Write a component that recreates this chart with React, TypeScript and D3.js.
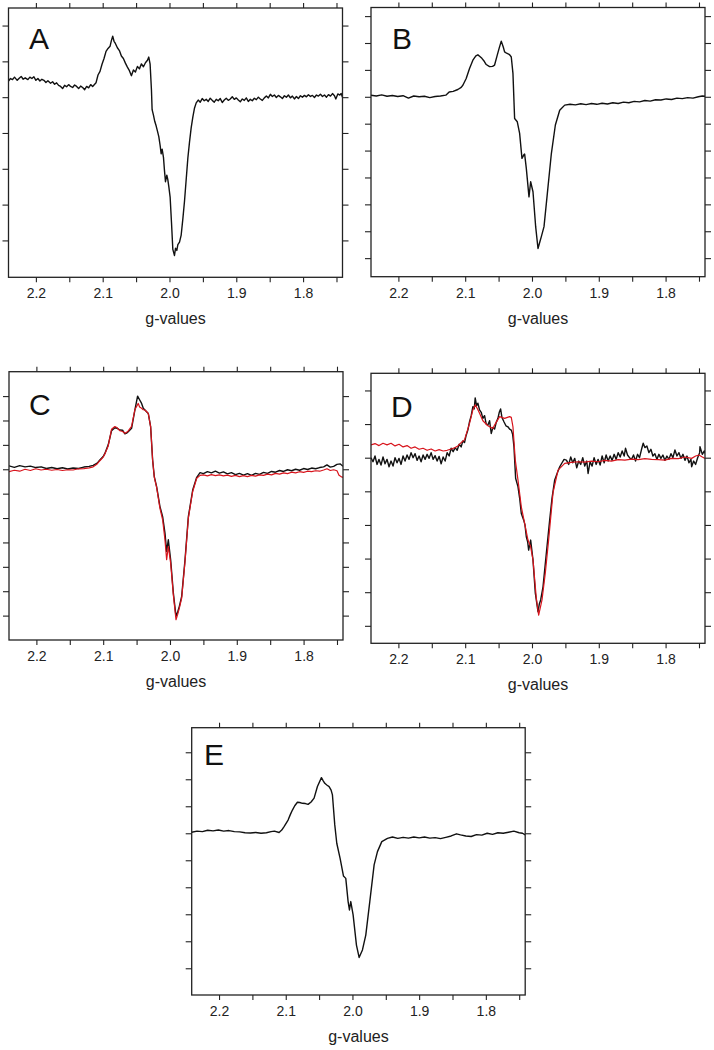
import React, { useEffect, useRef } from "react"
import * as d3 from "d3"

// g-value axis (same for every panel)
const xDomain = [2.241, 1.741]
const xTicks = [2.2, 2.15, 2.1, 2.05, 2.0, 1.95, 1.9, 1.85, 1.8, 1.75]
const xLabelled = [2.2, 2.1, 2.0, 1.9, 1.8]
const xTitle = "g-values"

// spectra as [g, intensity] in tick units
const specA = [
    [2.241,0.45],[2.238,0.52],[2.235,0.49],[2.232,0.56],[2.228,0.47],[2.225,0.53],[2.222,0.58],[2.219,0.5],[2.216,0.54],[2.212,0.49],[2.209,0.56],[2.206,0.52],[2.203,0.57],[2.2,0.47],[2.197,0.52],[2.194,0.45],[2.191,0.5],[2.188,0.47],[2.185,0.41],[2.182,0.46],[2.178,0.39],[2.175,0.43],[2.172,0.36],[2.169,0.4],[2.166,0.33],[2.163,0.3],[2.16,0.24],[2.157,0.33],[2.154,0.29],[2.151,0.35],[2.148,0.3],[2.145,0.27],[2.142,0.34],[2.139,0.3],[2.136,0.24],[2.133,0.31],[2.13,0.27],[2.127,0.21],[2.124,0.3],[2.121,0.26],[2.118,0.35],[2.115,0.3],[2.112,0.36],[2.11,0.4],
    [2.107,0.62],[2.104,0.72],[2.101,0.92],[2.098,1.08],[2.095,1.28],[2.092,1.36],[2.089,1.42],[2.087,1.58],[2.085,1.7],[2.083,1.56],[2.081,1.5],[2.078,1.38],[2.075,1.3],[2.072,1.15],[2.069,1.08],[2.066,0.95],[2.063,0.84],[2.06,0.74],[2.057,0.6],[2.054,0.76],[2.051,0.7],[2.048,0.86],[2.045,0.79],[2.042,0.93],[2.039,0.85],[2.036,0.96],[2.033,1.03],[2.031,1.12],[2.029,0.92],[2.027,0.2],
    [2.026,-0.35],[2.024,-0.5],[2.022,-0.68],[2.02,-0.8],[2.018,-0.95],[2.016,-1.1],[2.014,-1.35],[2.0125,-1.58],[2.011,-1.45],[2.009,-1.68],[2.0075,-2.05],[2.006,-2.36],[2.004,-2.18],[2.0025,-2.3],[2.001,-2.5],[1.999,-2.8],[1.997,-3.5],[1.995,-4.25],[1.9925,-4.42],[1.991,-4.22],[1.989,-4.28],[1.9875,-4.12],[1.985,-4.05],[1.9825,-3.85],[1.98,-3.4],[1.9775,-2.9],[1.975,-2.3],[1.9725,-1.7],[1.97,-1.25],[1.9675,-0.85],[1.965,-0.55],[1.9625,-0.3],[1.96,-0.16],
    [1.957,-0.08],[1.954,-0.14],[1.951,-0.04],[1.948,-0.1],[1.945,-0.06],[1.942,-0.12],[1.939,-0.03],[1.936,-0.09],[1.933,-0.14],[1.93,-0.06],[1.927,-0.1],[1.924,-0.04],[1.921,-0.15],[1.918,-0.08],[1.915,-0.03],[1.912,-0.09],[1.909,-0.05],[1.906,0.01],[1.903,-0.06],[1.9,-0.02],[1.897,-0.08],[1.894,-0.13],[1.891,-0.05],[1.888,-0.09],[1.885,-0.02],[1.882,-0.12],[1.879,-0.06],[1.876,-0.1],[1.873,-0.03],[1.87,-0.07],[1.867,0.0],[1.864,-0.05],[1.861,-0.09],[1.858,-0.02],[1.855,0.03],[1.852,-0.02],[1.849,0.08],[1.846,0.02],[1.843,0.06],[1.84,-0.01],[1.837,0.05],[1.834,0.01],[1.831,-0.04],[1.828,0.04],[1.825,0.0],[1.822,0.06],[1.819,-0.02],[1.816,0.03],[1.813,-0.05],[1.81,0.02],[1.807,-0.04],[1.804,0.04],[1.801,0.0],[1.798,0.05],[1.795,0.01],[1.792,0.07],[1.789,0.02],[1.786,0.05],[1.783,-0.01],[1.78,0.06],[1.777,0.03],[1.774,0.08],[1.771,0.02],[1.768,0.06],[1.765,0.0],[1.762,0.07],[1.759,0.03],[1.756,0.1],[1.753,0.04],[1.751,-0.05],[1.748,0.09],[1.745,0.06],[1.743,0.1],[1.741,0.0]
]

const specB = [
    [2.241,0.06],[2.233,0.03],[2.225,0.07],[2.217,0.02],[2.209,0.05],[2.201,0.01],[2.193,0.04],[2.185,-0.05],[2.177,0.03],[2.169,0.0],[2.161,0.02],[2.153,-0.03],[2.145,0.01],[2.137,0.03],[2.129,0.06],[2.124,0.18],[2.118,0.2],[2.111,0.27],[2.106,0.35],[2.1035,0.43],
    [2.0985,0.68],[2.0935,1.05],[2.0885,1.36],[2.084,1.52],[2.081,1.56],[2.078,1.5],[2.075,1.43],[2.0715,1.32],[2.0685,1.2],[2.0635,1.12],[2.059,1.13],[2.056,1.18],[2.052,1.55],[2.049,1.82],[2.046,2.07],[2.043,1.85],[2.041,1.67],[2.038,1.62],[2.035,1.59],[2.033,1.55],[2.031,1.48],[2.0285,0.87],
    [2.026,-0.81],[2.022,-0.93],[2.0185,-1.36],[2.015,-2.29],[2.012,-2.15],[2.011,-2.13],[2.0085,-2.66],[2.0045,-3.72],[2.002,-3.16],[1.9985,-3.53],[1.9945,-4.83],[1.991,-5.64],[1.9885,-5.42],[1.986,-5.2],[1.982,-4.83],[1.977,-3.59],[1.971,-2.11],[1.965,-1.05],[1.9585,-0.5],[1.951,-0.31],
    [1.943,-0.28],[1.935,-0.3],[1.927,-0.26],[1.919,-0.29],[1.911,-0.25],[1.903,-0.28],[1.895,-0.24],[1.887,-0.27],[1.879,-0.22],[1.871,-0.25],[1.863,-0.2],[1.855,-0.22],[1.847,-0.17],[1.839,-0.19],[1.831,-0.14],[1.823,-0.16],[1.815,-0.11],[1.807,-0.12],[1.799,-0.08],[1.791,-0.1],[1.783,-0.05],[1.775,-0.07],[1.767,-0.03],[1.759,-0.05],[1.751,0.0],[1.745,0.03],[1.741,0.02]
]

const specCblack = [
    [2.241,0.14],[2.233,0.08],[2.225,0.15],[2.217,0.1],[2.209,0.13],[2.201,0.07],[2.193,0.1],[2.185,0.03],[2.177,0.07],[2.169,0.02],[2.161,0.06],[2.153,0.01],[2.145,0.05],[2.137,0.03],[2.129,0.09],[2.121,0.12],[2.115,0.16],[2.109,0.25],[2.105,0.38],[2.1,0.52],
    [2.0975,0.65],[2.0925,1.0],[2.0875,1.58],[2.0825,1.7],[2.079,1.68],[2.075,1.61],[2.071,1.6],[2.0675,1.45],[2.065,1.48],[2.0625,1.54],[2.0575,1.68],[2.0525,2.43],[2.0485,3.0],[2.0455,2.85],[2.0425,2.7],[2.04,2.5],[2.0375,2.43],[2.0325,2.29],[2.029,1.75],[2.026,0.38],
    [2.0235,-0.3],[2.02,-0.71],[2.015,-1.53],[2.011,-1.94],[2.0075,-2.62],[2.005,-3.37],[2.0025,-2.89],[1.999,-3.71],[1.995,-5.07],[1.991,-6.03],[1.9885,-5.85],[1.986,-5.62],[1.9825,-5.21],[1.9775,-3.71],[1.9725,-1.94],[1.966,-0.85],[1.96,-0.33],[1.955,-0.14],
    [1.95,-0.18],[1.944,-0.1],[1.938,-0.15],[1.932,-0.08],[1.926,-0.16],[1.92,-0.11],[1.914,-0.19],[1.908,-0.14],[1.902,-0.22],[1.896,-0.17],[1.89,-0.24],[1.884,-0.18],[1.878,-0.25],[1.872,-0.17],[1.866,-0.21],[1.86,-0.13],[1.854,-0.17],[1.848,-0.09],[1.842,-0.12],[1.836,-0.05],[1.83,-0.09],[1.824,-0.02],[1.818,-0.06],[1.812,0.0],[1.806,-0.04],[1.8,0.03],[1.794,-0.01],[1.788,0.05],[1.782,0.02],[1.776,0.07],[1.77,0.1],[1.765,0.18],[1.76,0.09],[1.755,0.12],[1.75,0.2],[1.745,0.22],[1.741,0.12]
]

const specCred = [
    [2.241,-0.1],[2.233,-0.04],[2.225,-0.08],[2.217,0.0],[2.209,-0.05],[2.201,0.02],[2.193,-0.03],[2.185,0.0],[2.177,-0.04],[2.169,-0.01],[2.161,-0.05],[2.153,-0.02],[2.145,-0.03],[2.137,0.02],[2.129,0.03],[2.121,0.06],[2.115,0.1],[2.109,0.22],[2.105,0.35],[2.1,0.5],
    [2.0975,0.63],[2.0925,0.95],[2.0875,1.64],[2.0825,1.75],[2.079,1.7],[2.075,1.58],[2.071,1.55],[2.0675,1.48],[2.065,1.52],[2.0625,1.57],[2.0575,1.76],[2.0525,2.45],[2.0475,2.7],[2.0455,2.55],[2.0425,2.5],[2.04,2.44],[2.0375,2.43],[2.0325,2.29],[2.029,1.75],[2.026,0.38],
    [2.0235,-0.33],[2.02,-0.74],[2.015,-1.6],[2.011,-2.07],[2.0075,-2.9],[2.005,-3.71],[2.0025,-3.16],[1.999,-3.85],[1.995,-5.14],[1.991,-6.17],[1.9885,-5.95],[1.986,-5.69],[1.9825,-5.28],[1.9775,-3.78],[1.9725,-2.0],[1.966,-0.91],[1.96,-0.37],[1.955,-0.25],
    [1.95,-0.23],[1.944,-0.27],[1.938,-0.22],[1.932,-0.26],[1.926,-0.23],[1.92,-0.27],[1.914,-0.24],[1.908,-0.29],[1.902,-0.25],[1.896,-0.3],[1.89,-0.26],[1.884,-0.3],[1.878,-0.25],[1.872,-0.28],[1.866,-0.23],[1.86,-0.25],[1.854,-0.2],[1.848,-0.23],[1.842,-0.17],[1.836,-0.2],[1.83,-0.15],[1.824,-0.18],[1.818,-0.12],[1.812,-0.15],[1.806,-0.1],[1.8,-0.13],[1.794,-0.08],[1.788,-0.1],[1.782,-0.06],[1.776,-0.08],[1.77,-0.03],[1.765,0.02],[1.76,-0.05],[1.755,-0.02],[1.75,-0.06],[1.747,-0.25],[1.744,-0.3],[1.741,-0.33]
]

const specDblack = [
    [2.241,0.0],[2.238,-0.12],[2.235,0.05],[2.232,-0.2],[2.229,-0.05],[2.226,-0.22],[2.223,0.02],[2.22,-0.18],[2.217,-0.05],[2.214,-0.27],[2.211,-0.1],[2.208,-0.25],[2.205,0.0],[2.202,-0.15],[2.199,-0.02],[2.196,-0.2],[2.193,0.05],[2.19,-0.1],[2.187,0.08],[2.184,-0.05],[2.181,0.15],[2.178,0.0],[2.175,0.12],[2.172,-0.08],[2.169,0.05],[2.166,-0.12],[2.163,0.08],[2.16,-0.05],[2.157,0.1],[2.154,-0.02],[2.151,0.15],[2.148,-0.05],[2.145,0.06],[2.142,-0.1],[2.139,0.04],[2.136,-0.18],[2.133,0.02],[2.13,-0.1],[2.127,0.15],[2.124,0.05],
    [2.121,0.28],[2.118,0.18],[2.115,0.3],[2.112,0.22],[2.109,0.4],[2.106,0.32],[2.1035,0.5],[2.101,0.45],[2.0985,0.67],[2.096,0.82],[2.0935,1.07],[2.091,1.25],[2.0885,1.52],[2.0865,1.45],[2.085,1.78],[2.083,1.55],[2.081,1.62],[2.0785,1.42],[2.076,1.35],[2.0735,1.17],[2.071,1.25],[2.0685,1.0],[2.066,0.97],[2.0635,1.1],[2.061,0.72],[2.0585,0.9],[2.056,0.85],[2.0535,1.05],[2.051,1.17],[2.049,1.35],[2.047,1.45],[2.045,1.2],[2.042,1.07],[2.039,0.95],[2.036,0.92],[2.0335,0.85],[2.031,0.82],[2.029,0.7],[2.027,0.33],
    [2.0245,-0.61],[2.021,-0.86],[2.0185,-1.2],[2.016,-1.66],[2.0125,-1.85],[2.0105,-2.0],[2.0085,-2.35],[2.0065,-2.5],[2.005,-2.75],[2.002,-2.45],[1.9985,-3.04],[1.995,-4.03],[1.993,-4.3],[1.991,-4.58],[1.989,-4.35],[1.987,-4.23],[1.9835,-3.84],[1.9785,-2.84],[1.9735,-1.85],[1.97,-1.2],[1.966,-0.66],[1.962,-0.45],[1.9585,-0.27],[1.955,-0.15],[1.952,-0.05],
    [1.9485,-0.07],[1.945,-0.2],[1.942,0.02],[1.939,-0.15],[1.936,-0.02],[1.933,-0.3],[1.93,-0.1],[1.927,-0.2],[1.924,0.0],[1.921,-0.25],[1.918,-0.1],[1.916,-0.47],[1.913,-0.12],[1.91,-0.25],[1.907,0.0],[1.904,-0.2],[1.901,-0.05],[1.898,-0.22],[1.895,0.05],[1.892,-0.15],[1.889,0.08],[1.886,-0.1],[1.883,0.05],[1.88,-0.08],[1.877,0.1],[1.874,-0.05],[1.871,0.15],[1.868,0.02],[1.865,0.2],[1.862,0.05],[1.86,0.28],[1.857,0.08],[1.854,0.0],[1.851,-0.05],[1.848,0.08],[1.845,-0.1],[1.842,0.1],[1.839,0.0],[1.836,0.25],[1.8335,0.43],[1.831,0.3],[1.828,0.35],[1.825,0.15],[1.822,0.25],[1.819,0.05],[1.816,0.12],[1.813,-0.05],[1.81,0.1],[1.807,-0.02],[1.804,0.08],[1.801,-0.08],[1.798,0.05],[1.795,-0.05],[1.792,0.12],[1.789,0.0],[1.786,0.23],[1.783,0.05],[1.78,0.15],[1.777,-0.02],[1.774,0.1],[1.771,-0.08],[1.768,0.05],[1.765,-0.15],[1.762,-0.05],[1.761,-0.27],[1.758,-0.1],[1.755,-0.2],[1.752,0.0],[1.749,0.15],[1.7485,0.33],[1.745,0.1],[1.742,0.2],[1.7385,0.02]
]

const specDred = [
    [2.241,0.38],[2.235,0.42],[2.229,0.36],[2.223,0.43],[2.217,0.38],[2.211,0.43],[2.205,0.35],[2.199,0.4],[2.193,0.32],[2.187,0.36],[2.181,0.28],[2.175,0.32],[2.169,0.25],[2.163,0.28],[2.157,0.22],[2.151,0.26],[2.145,0.2],[2.139,0.24],[2.133,0.2],[2.127,0.22],[2.121,0.26],[2.115,0.3],[2.111,0.35],[2.106,0.45],[2.101,0.53],
    [2.0935,1.02],[2.0885,1.42],[2.085,1.57],[2.0815,1.45],[2.0785,1.32],[2.0735,1.1],[2.066,0.95],[2.0585,0.87],[2.056,0.97],[2.0485,1.22],[2.041,1.17],[2.0335,1.22],[2.031,1.2],[2.0285,0.92],
    [2.025,-0.07],[2.021,-0.66],[2.016,-1.46],[2.011,-1.95],[2.006,-2.45],[2.002,-2.65],[1.9985,-3.04],[1.9935,-4.18],[1.99,-4.68],[1.985,-4.23],[1.98,-3.42],[1.975,-2.43],[1.9685,-1.04],[1.961,-0.37],[1.951,-0.17],
    [1.941,-0.14],[1.931,-0.12],[1.921,-0.13],[1.911,-0.1],[1.901,-0.12],[1.891,-0.08],[1.881,-0.1],[1.871,-0.06],[1.861,-0.07],[1.851,-0.04],[1.841,-0.06],[1.831,-0.03],[1.821,-0.05],[1.811,-0.06],[1.801,-0.07],[1.791,-0.02],[1.781,-0.03],[1.771,0.02],[1.761,-0.02],[1.755,0.05],[1.75,0.08],[1.745,0.02],[1.741,-0.02]
]

const specE = [
    [2.241,0.04],[2.233,0.08],[2.225,0.06],[2.217,0.11],[2.209,0.09],[2.201,0.12],[2.193,0.08],[2.185,0.1],[2.177,0.06],[2.169,0.05],[2.161,0.02],[2.153,0.01],[2.145,0.03],[2.137,0.0],[2.129,0.02],[2.122,0.06],[2.117,0.08],[2.11,0.03],[2.106,0.12],[2.1025,0.25],
    [2.0965,0.49],[2.093,0.7],[2.09,0.86],[2.0865,1.02],[2.0825,1.15],[2.079,1.14],[2.075,1.11],[2.0705,1.1],[2.0665,1.07],[2.062,1.16],[2.0575,1.3],[2.0525,1.73],[2.0465,2.06],[2.044,1.95],[2.0415,1.85],[2.038,1.78],[2.035,1.73],[2.032,1.6],[2.03,1.42],[2.0265,0.31],
    [2.0235,-0.37],[2.0185,-0.93],[2.0135,-1.58],[2.01,-1.67],[2.0065,-2.53],[2.0045,-2.84],[2.0025,-2.53],[1.999,-3.02],[1.994,-4.14],[1.99,-4.6],[1.985,-4.32],[1.98,-3.77],[1.974,-2.53],[1.9675,-1.17],[1.9625,-0.68],[1.956,-0.31],[1.9475,-0.19],
    [1.94,-0.14],[1.932,-0.19],[1.924,-0.15],[1.916,-0.18],[1.908,-0.14],[1.9,-0.17],[1.892,-0.14],[1.884,-0.18],[1.876,-0.16],[1.868,-0.2],[1.86,-0.15],[1.852,-0.1],[1.844,-0.02],[1.838,-0.06],[1.83,-0.1],[1.822,-0.12],[1.814,-0.05],[1.806,-0.07],[1.798,0.0],[1.79,-0.04],[1.782,0.02],[1.774,0.0],[1.766,0.04],[1.758,0.08],[1.75,0.02],[1.745,0.0],[1.741,-0.06]
]

const black = "#111"
const red = "#d8141c"

const panels = [
    { label: "A", left: 8.5, top: 8, w: 334, h: 269.3, yDomain: [-5.03, 2.49], lx: 20.5, ly: 41, series: [[specA, black]] },
    { label: "B", left: 371, top: 7.5, w: 334, h: 269.2, yDomain: [-6.69, 3.32], lx: 21, ly: 41.5, series: [[specB, black]] },
    { label: "C", left: 9, top: 371.7, w: 334, h: 268.3, yDomain: [-7.0, 4.0], lx: 20, ly: 43, series: [[specCblack, black], [specCred, red]] },
    { label: "D", left: 371, top: 373.3, w: 334, h: 270, yDomain: [-5.52, 2.51], lx: 20, ly: 43.7, series: [[specDblack, black], [specDred, red]] },
    { label: "E", left: 191.7, top: 727.7, w: 333.5, h: 267.3, yDomain: [-5.99, 3.91], lx: 12.3, ly: 37.3, series: [[specE, black]] }
]

const font = "'Liberation Sans', Arial, sans-serif"

export default function App() {
    const ref = useRef<SVGSVGElement>(null)

    useEffect(() => {
        const svg = d3.select(ref.current)
        svg.selectAll("*").remove()

        panels.forEach((p, i) => {
            const x = d3.scaleLinear().domain(xDomain).range([0, p.w])
            const y = d3.scaleLinear().domain(p.yDomain).range([p.h, 0])
            const yTicks = d3.range(Math.ceil(p.yDomain[0]), Math.floor(p.yDomain[1]) + 1)
                .filter(t => y(t) > 2 && y(t) < p.h - 2)

            const g = svg.append("g").attr("transform", "translate(" + p.left + "," + p.top + ")")

            g.append("clipPath")
                .attr("id", "clip" + i)
                .append("rect")
                .attr("width", p.w)
                .attr("height", p.h)

            const line = d3.line().x(d => x(d[0])).y(d => y(d[1]))

            p.series.forEach(([data, color]) => {
                g.append("path")
                    .datum(data)
                    .attr("clip-path", "url(#clip" + i + ")")
                    .attr("d", line)
                    .attr("fill", "none")
                    .attr("stroke", color)
                    .attr("stroke-width", color === red ? 1.2 : 1.4)
                    .attr("stroke-linejoin", "round")
            })

            const styleAxis = sel => {
                sel.select(".domain").remove()
                sel.selectAll(".tick line").attr("stroke", "#222").attr("stroke-width", 1.1)
                sel.selectAll("text").attr("font-family", font).attr("font-size", 14).attr("fill", "#222")
            }

            g.append("g")
                .attr("transform", "translate(0," + p.h + ")")
                .call(d3.axisBottom(x).tickValues(xTicks).tickSize(5).tickPadding(6)
                    .tickFormat(d => xLabelled.some(v => Math.abs(v - d) < 1e-6) ? d3.format(".1f")(d) : ""))
                .call(styleAxis)

            g.append("g")
                .call(d3.axisTop(x).tickValues(xTicks).tickSize(5).tickFormat(() => ""))
                .call(styleAxis)

            g.append("g")
                .call(d3.axisLeft(y).tickValues(yTicks).tickSize(6).tickFormat(() => ""))
                .call(styleAxis)

            g.append("g")
                .attr("transform", "translate(" + p.w + ",0)")
                .call(d3.axisRight(y).tickValues(yTicks).tickSize(6).tickFormat(() => ""))
                .call(styleAxis)

            g.append("rect")
                .attr("width", p.w)
                .attr("height", p.h)
                .attr("fill", "none")
                .attr("stroke", "#222")
                .attr("stroke-width", 1.3)

            g.append("text")
                .attr("x", p.lx)
                .attr("y", p.ly)
                .attr("font-family", font)
                .attr("font-size", 30)
                .attr("fill", "#111")
                .text(p.label)

            g.append("text")
                .attr("x", p.w / 2)
                .attr("y", p.h + 47)
                .attr("text-anchor", "middle")
                .attr("font-family", font)
                .attr("font-size", 16)
                .attr("fill", "#222")
                .text(xTitle)
        })
    }, [])

    return (
        <svg
            ref={ref}
            width={714}
            height={1050}
            style={{ position: "absolute", left: 0, top: 0, background: "#fff" }}
        />
    )
}
